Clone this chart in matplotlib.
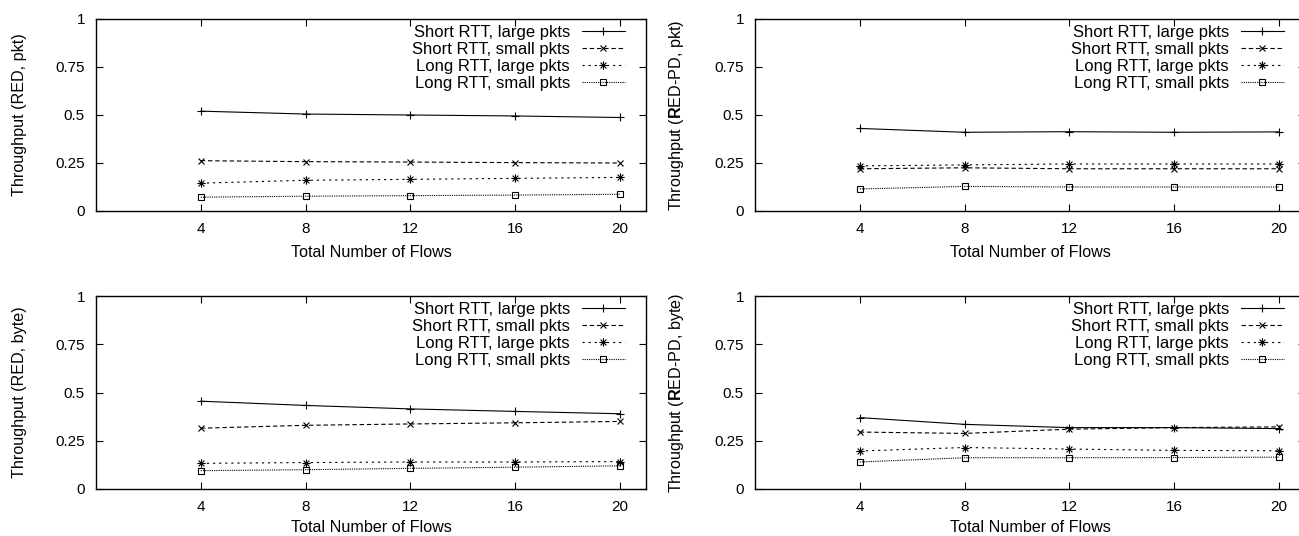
import matplotlib
matplotlib.use("Agg")
import matplotlib.pyplot as plt
from matplotlib.path import Path

plt.rcParams['font.family'] = ['Liberation Sans', 'DejaVu Sans']
plt.rcParams['mathtext.fontset'] = 'custom'
plt.rcParams['mathtext.rm'] = 'Liberation Sans'
plt.rcParams['mathtext.bf'] = 'Liberation Sans:bold'

# data
flows = [4, 8, 12, 16, 20]
series_names = ["Short RTT, large pkts", "Short RTT, small pkts",
                "Long RTT, large pkts", "Long RTT, small pkts"]

red_pkt = [
    [0.520, 0.505, 0.500, 0.495, 0.487],
    [0.262, 0.257, 0.255, 0.252, 0.250],
    [0.145, 0.160, 0.165, 0.170, 0.175],
    [0.072, 0.077, 0.080, 0.083, 0.087],
]
redpd_pkt = [
    [0.430, 0.410, 0.413, 0.410, 0.412],
    [0.220, 0.225, 0.220, 0.220, 0.220],
    [0.235, 0.240, 0.245, 0.245, 0.245],
    [0.115, 0.128, 0.125, 0.125, 0.125],
]
red_byte = [
    [0.455, 0.433, 0.415, 0.402, 0.390],
    [0.315, 0.330, 0.337, 0.343, 0.350],
    [0.133, 0.137, 0.140, 0.140, 0.142],
    [0.095, 0.100, 0.107, 0.113, 0.120],
]
redpd_byte = [
    [0.370, 0.335, 0.318, 0.318, 0.313],
    [0.295, 0.288, 0.310, 0.318, 0.322],
    [0.197, 0.215, 0.207, 0.200, 0.198],
    [0.140, 0.162, 0.162, 0.163, 0.165],
]

ylabels = ["Throughput (RED, pkt)", r"Throughput ($\mathbf{R}$ED-PD, pkt)",
           "Throughput (RED, byte)", r"Throughput ($\mathbf{R}$ED-PD, byte)"]
yticks = [0, 0.25, 0.5, 0.75, 1]
ytick_labels = ["0", "0.25", "0.5", "0.75", "1"]

# gnuplot style point 3: plus and cross together
star = Path([(-1, 0), (1, 0), (0, -1), (0, 1), (-0.7, -0.7), (0.7, 0.7), (-0.7, 0.7), (0.7, -0.7)],
            [Path.MOVETO, Path.LINETO] * 4)

styles = [
    dict(linestyle='-', marker='+', markersize=6),
    dict(linestyle=(0, (4, 2.5)), marker='x', markersize=4.5),
    dict(linestyle=(0, (2, 3.5)), marker=star, markersize=6),
    dict(linestyle=(0, (1, 1)), marker='s', markersize=4.5, markerfacecolor='none'),
]

fig = plt.figure(figsize=(12.99, 5.36), dpi=100)
W, H = 1299, 536
boxes = [(96, 19, 550, 192), (755, 19, 550, 192),
         (96, 296, 550, 193), (755, 296, 550, 193)]
xlabel_pads = [6.5, 6.5, 4.5, 4.5]
panels = [red_pkt, redpd_pkt, red_byte, redpd_byte]

for (x0, y0, w, h), vals, ylab, xpad in zip(boxes, panels, ylabels, xlabel_pads):
    ax = fig.add_axes([x0 / W, 1 - (y0 + h) / H, w / W, h / H])
    for name, v, st in zip(series_names, vals, styles):
        ax.plot(flows, v, color='black', linewidth=0.8, markeredgewidth=0.8,
                label=name, clip_on=False, **st)
    ax.set_xlim(0, 21)
    ax.set_ylim(0, 1)
    ax.set_xticks(flows)
    ax.set_yticks(yticks)
    ax.set_yticklabels(ytick_labels)
    ax.tick_params(direction='in', length=5, width=0.8, top=True, right=True,
                   labelsize=11, pad=8)
    for s in ax.spines.values():
        s.set_linewidth(1.0)
    ax.set_xlabel("Total Number of Flows", fontsize=11.6, labelpad=xpad)
    ax.set_ylabel(ylab, fontsize=11.6, labelpad=20)
    ax.legend(loc='upper right', bbox_to_anchor=(1 - 21 / w, 1 - 6 / h),
              frameon=False, markerfirst=False, fontsize=12,
              handlelength=2.6, handletextpad=0.7, labelspacing=0.12,
              borderpad=0, borderaxespad=0)

fig.savefig("out.png", dpi=100)
